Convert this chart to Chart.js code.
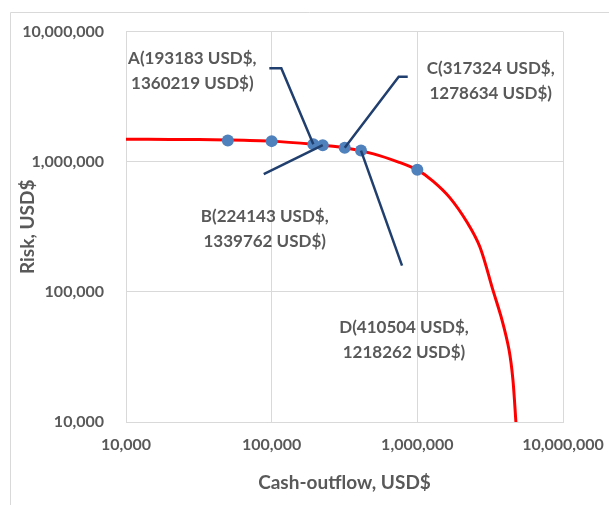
<!DOCTYPE html>
<html>
<head>
<meta charset="utf-8">
<script src="https://cdn.jsdelivr.net/npm/chart.js@4"></script>
<style>
  body { margin: 0; background: #fff; }
  #wrap { width: 609px; height: 505px; }
</style>
</head>
<body>
<div id="wrap"><canvas id="riskChart" width="609" height="505"></canvas></div>
<script>
// red frontier curve
const curveX = [10000, 20000, 50000, 100000, 193183, 317324, 500000, 750000, 1000000, 1280000, 1670000, 2190000, 2690000, 3300000, 3810000, 4260000, 4530000, 4750000];
const curveY = [1490000, 1485000, 1470000, 1440000, 1360000, 1280000, 1150000, 990000, 865000, 710000, 530000, 344000, 221000, 103500, 61000, 35900, 21200, 10000];

// blue points
const pointX = [50000, 100000, 193183, 224143, 317324, 410504, 1000000];
const pointY = [1455000, 1440000, 1360219, 1339762, 1278634, 1218262, 868000];

// labelled points: name + index into pointX/pointY
const labelNames = ['A', 'B', 'C', 'D'];
const labelIndex = [2, 3, 4, 5];

const xTicks = [10000, 100000, 1000000, 10000000];
const yTicks = [10000, 100000, 1000000, 10000000];

// where each label sits, in px relative to its point
const labelLayout = [
    { elbow: [-32, -76], end: [-44, -76], text: [-121, -73] },
    { elbow: null, end: [-59, 29], text: [-58, 84] },
    { elbow: [54, -71], end: [63, -71], text: [146, -67] },
    { elbow: null, end: [41, 115], text: [43, 189] }
];

const textColor = '#595959';
const gridColor = '#d9d9d9';
const fontFamily = 'Lato, "Liberation Sans", sans-serif';

const fmt = v => Number(v).toLocaleString('en-US');

const framePlugin = { // outer chart border, like excel
    id: 'framePlugin',
    beforeDraw(chart) {
        const ctx = chart.ctx;
        ctx.save();
        ctx.strokeStyle = gridColor;
        ctx.lineWidth = 1;
        ctx.beginPath();
        ctx.moveTo(10.5, chart.height);
        ctx.lineTo(10.5, 12.5);
        ctx.lineTo(chart.width, 12.5);
        ctx.stroke();
        ctx.restore();
    }
};

const leaderPlugin = { // leader lines + data labels
    id: 'leaderPlugin',
    afterDatasetsDraw(chart) {
        const ctx = chart.ctx;
        const xs = chart.scales.x, ys = chart.scales.y;
        ctx.save();
        labelNames.forEach((name, k) => {
            const i = labelIndex[k];
            const px = xs.getPixelForValue(pointX[i]);
            const py = ys.getPixelForValue(pointY[i]);
            const lay = labelLayout[k];

            ctx.strokeStyle = '#203f6e';
            ctx.lineWidth = 2.5;
            ctx.beginPath();
            ctx.moveTo(px, py);
            if (lay.elbow) ctx.lineTo(px + lay.elbow[0], py + lay.elbow[1]);
            ctx.lineTo(px + lay.end[0], py + lay.end[1]);
            ctx.stroke();

            ctx.fillStyle = textColor;
            ctx.font = 'bold 17px ' + fontFamily;
            ctx.textAlign = 'center';
            ctx.textBaseline = 'middle';
            const cx = px + lay.text[0], cy = py + lay.text[1];
            ctx.fillText(name + '(' + pointX[i] + ' USD$,', cx, cy - 12.5);
            ctx.fillText(pointY[i] + ' USD$)', cx, cy + 12.5);
        });
        ctx.restore();
    }
};

const ctx = document.getElementById('riskChart').getContext('2d');

const config = {
    type: 'scatter',
    data: {
        datasets: [
            {
                label: 'points',
                data: pointX.map((x, i) => ({ x: x, y: pointY[i] })),
                pointRadius: 6,
                pointBackgroundColor: '#4f81bd',
                pointBorderWidth: 0,
                order: 1
            },
            {
                label: 'frontier',
                data: curveX.map((x, i) => ({ x: x, y: curveY[i] })),
                showLine: true,
                borderColor: '#ff0000',
                borderWidth: 3,
                pointRadius: 0,
                tension: 0.3,
                order: 2
            }
        ]
    },
    options: {
        responsive: false,
        animation: false,
        layout: { padding: { left: 0, top: 31, right: 46, bottom: 0 } },
        plugins: {
            legend: { display: false },
            tooltip: { enabled: false }
        },
        scales: {
            x: {
                type: 'logarithmic',
                min: 10000,
                max: 10000000,
                afterBuildTicks: s => { s.ticks = xTicks.map(v => ({ value: v })); },
                afterFit: s => { s.height = 83; s.paddingLeft = 0; s.paddingRight = 0; },
                grid: { color: gridColor, drawTicks: false },
                border: { color: gridColor },
                ticks: {
                    color: textColor,
                    font: { family: fontFamily, size: 16, weight: 'bold' },
                    padding: 13,
                    maxRotation: 0,
                    callback: v => fmt(v)
                },
                title: {
                    display: true,
                    text: 'Cash-outflow, USD$',
                    color: textColor,
                    font: { family: fontFamily, size: 19, weight: 'bold' },
                    padding: { top: 0, bottom: 10.6 }
                }
            },
            y: {
                type: 'logarithmic',
                min: 10000,
                max: 10000000,
                afterBuildTicks: s => { s.ticks = yTicks.map(v => ({ value: v })); },
                afterFit: s => { s.width = 126; },
                grid: { color: gridColor, drawTicks: false },
                border: { color: gridColor },
                ticks: {
                    color: textColor,
                    font: { family: fontFamily, size: 16, weight: 'bold' },
                    padding: 22,
                    callback: v => fmt(v)
                },
                title: {
                    display: true,
                    text: 'Risk, USD$',
                    color: textColor,
                    font: { family: fontFamily, size: 19, weight: 'bold' },
                    padding: { top: 16.6, bottom: 0 }
                }
            }
        }
    },
    plugins: [framePlugin, leaderPlugin]
};

const riskChart = new Chart(ctx, config);
</script>
</body>
</html>
